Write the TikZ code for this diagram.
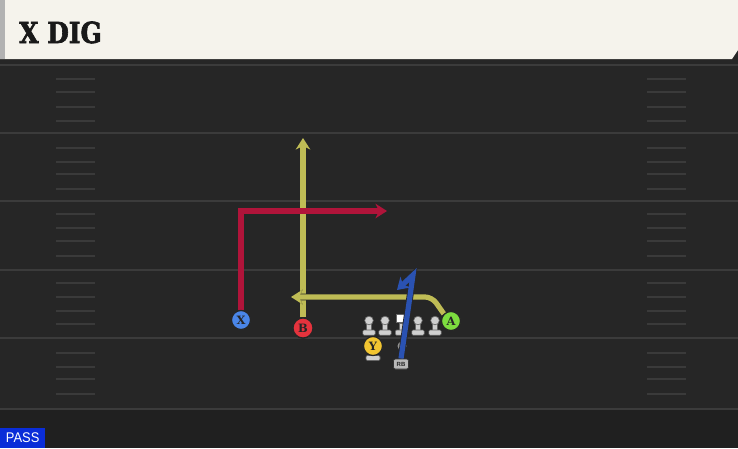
\documentclass[tikz,border=0pt]{standalone}
\usepackage{fontspec}
\setmainfont{Liberation Sans}
\newfontfamily\titlefont{DejaVu Serif}
\usetikzlibrary{arrows.meta}
\definecolor{fieldbg}{HTML}{262626}
\definecolor{fielddark}{HTML}{202020}
\definecolor{fieldline}{HTML}{3B3B3B}
\definecolor{hashcol}{HTML}{3A3A3A}
\definecolor{headerbg}{HTML}{F5F3EC}
\definecolor{passblue}{HTML}{0A2DD8}
\definecolor{routered}{HTML}{B0143A}
\definecolor{routeyellow}{HTML}{BFBC55}
\definecolor{routeblue}{HTML}{2A52B2}
\definecolor{xblue}{HTML}{4A86E8}
\definecolor{bred}{HTML}{E5333D}
\definecolor{ayellowgreen}{HTML}{7DDD3F}
\definecolor{yyellow}{HTML}{F2C531}
\definecolor{olgray}{HTML}{CFCFCF}
\tikzset{
  player/.style={circle, draw=black!85, line width=1.2pt, inner sep=0pt,
    minimum size=19pt, text=black!85,
    font=\titlefont\bfseries\fontsize{11.5}{11.5}\selectfont},
  routeshadow/.style={draw=black!85, line width=6.8pt, -{Stealth[length=11.5pt,width=14.5pt,inset=3.5pt]}},
  route/.style={line width=5.2pt, -{Stealth[length=11.5pt,width=14.5pt,inset=3.5pt]}},
  fline/.style={draw=fieldline, line width=1.8pt},
  hashmark/.style={draw=hashcol, line width=1.6pt},
  olpart/.style={fill=olgray, draw=black!60, line width=0.6pt},
  rbtag/.style={fill=gray!55, draw=black!80, line width=0.6pt, rounded corners=2pt, inner sep=0pt,
    minimum width=15pt, minimum height=10pt, text=black!85,
    font=\bfseries\fontsize{6}{6}\selectfont},
  pics/lineman/.style={code={
    \path[olpart] (-2.7,-2) rectangle (2.7,5.5);
    \path[olpart, rounded corners=1.2pt] (-6.2,5) rectangle (6.2,10.2);
    \path[olpart] (0,-4.5) circle (4.3);
  }},
  pics/centerman/.style={code={
    \path[olpart] (-2.7,-2) rectangle (2.7,5.5);
    \path[olpart, rounded corners=1.2pt] (-6.2,5) rectangle (6.2,10.2);
    \path[fill=white, draw=black!60, line width=0.6pt] (-5,-11.2) rectangle (5,-2.5);
  }}
}
\begin{document}
\begin{tikzpicture}[x=1pt,y=-1pt]
\useasboundingbox (0,0) rectangle (738,448);
% field
\fill[fieldbg] (0,0) rectangle (738,448);
\fill[fielddark] (0,409) rectangle (738,448);
\foreach \yy in {65,133,201,270,338,409} \draw[fline] (0,\yy) -- (738,\yy);
\foreach \yy in {79,92,107,121,148,162,174,189,214,228,241,256,283,297,311,324,353,367,379,394} {
  \draw[hashmark] (56,\yy) -- (95,\yy);
  \draw[hashmark] (647,\yy) -- (686,\yy);
}
% header
\fill[black!85] (0,58) rectangle (738,63);
\fill[headerbg] (0,0) -- (738,0) -- (738,50) -- (732,59) -- (0,59) -- cycle;
\fill[gray!60] (0,0) rectangle (5,59);
\node[anchor=base west, inner sep=0pt, text=black!90,
  font=\titlefont\bfseries\fontsize{29}{29}\selectfont\addfontfeature{FakeBold=2.5}] (title) at (19,43) {\scalebox{0.86}[1]{X DIG}};
% pass tag
\node[fill=passblue, text=white, anchor=south west, minimum width=45pt, minimum height=20pt,
  inner sep=0pt, font=\fontsize{14}{14}\selectfont] (pass) at (0,448) {\scalebox{0.92}[1]{PASS}};
% offensive line
\pic at (369,325) {lineman};
\pic at (385,325) {lineman};
\pic at (401.5,325) {centerman};
\pic at (418,325) {lineman};
\pic at (435,325) {lineman};
% Y base
\path[olpart] (371.3,352) rectangle (374.7,357);
\path[olpart, rounded corners=1.2pt] (366,355.5) rectangle (380,360.5);
% RB spot and tag
\node[circle, fill=gray!70, opacity=0.85, inner sep=0pt, minimum size=9pt] (rbdot) at (402,346) {};
\node[rbtag] (RB) at (401,364) {RB};
% players
\node[player, fill=xblue] (X) at (241,320) {X};
\node[player, fill=bred, minimum size=20pt] (B) at (303,328) {B};
\node[player, fill=yyellow] (Y) at (373,346) {Y};
\node[player, fill=ayellowgreen] (A) at (451,321) {A};
% route waypoints
\coordinate (bend) at (303,138);
\coordinate (xc) at (241,211);
\coordinate (xend) at (387,211);
\coordinate (ac) at (432,297);
\coordinate (aend) at (291,297);
\coordinate (rbtop) at (413,275);
\coordinate (rbend) at (397,290);
% routes
\draw[routeshadow] (B.north) -- (bend);
\draw[route, routeyellow] (B.north) -- (bend);
\draw[routeshadow] (X.north) -- (xc) -- (xend);
\draw[route, routered] (X.north) -- (xc) -- (xend);
\draw[routeshadow, rounded corners=7pt] (A.north west) -- (ac) -- (aend);
\draw[route, routeyellow, rounded corners=7pt] (A.north west) -- (ac) -- (aend);
\draw[routeshadow] (RB.north) -- (rbtop) -- (rbend);
\draw[route, routeblue] (RB.north) -- (rbtop) -- (rbend);
% players redrawn on top of route starts
\node[player, fill=xblue] at (X) {X};
\node[player, fill=bred, minimum size=20pt] at (B) {B};
\node[player, fill=ayellowgreen] at (A) {A};
\node[rbtag] at (RB) {RB};
\end{tikzpicture}
\end{document}
